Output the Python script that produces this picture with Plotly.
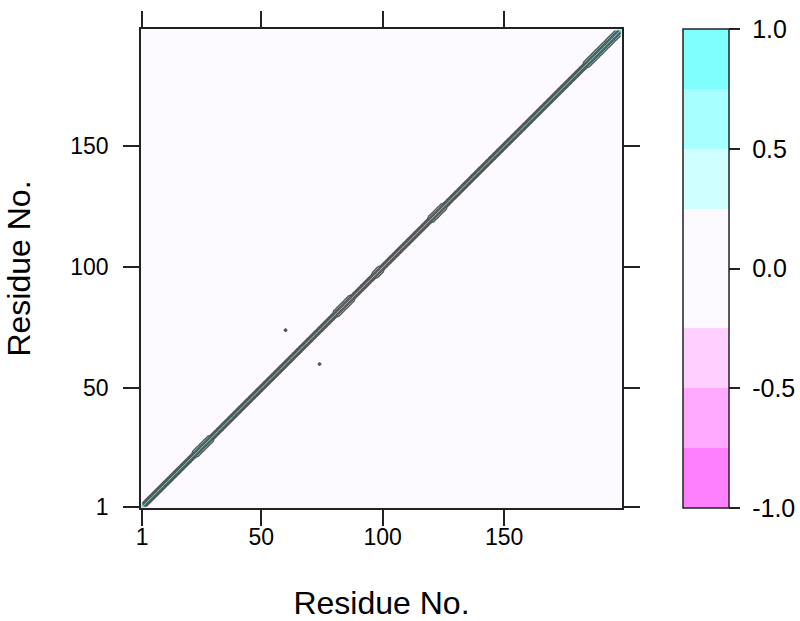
import numpy as np
import plotly.graph_objects as go

# Residue-residue cross-correlation map (DCCM style)
n_res = 198
residues = list(range(1, n_res + 1))

# Coupling of sequence neighbours (i, i+1) along the whole chain
neighbour_value = 0.55

# Stretches where next-nearest neighbours (i, i+2) are also coupled
band_start = [22, 80, 96, 119, 183]
band_end = [30, 88, 100, 126, 198]
band_value = [0.3, 0.3, 0.3, 0.3, 0.3]

# Isolated off-diagonal correlated pairs
pair_i = [60]
pair_j = [74]
pair_value = [0.6]

# Colour levels and tick labels for the colour key
level_breaks = [-1.0, -0.75, -0.5, -0.25, 0.25, 0.5, 0.75, 1.0]
level_colors = ["#FF80FF", "#FFA8FF", "#FFD0FF", "#FDFAFF", "#D0FFFF", "#A8FFFF", "#80FFFF"]
key_ticks = [-1.0, -0.5, 0.0, 0.5, 1.0]
key_labels = ["-1.0", "-0.5", "0.0", "0.5", "1.0"]
axis_ticks = [1, 50, 100, 150]

# Build the symmetric correlation matrix
cij = np.zeros((n_res, n_res))
np.fill_diagonal(cij, 1.0)
for k in range(1, n_res):
    cij[k - 1, k] = cij[k, k - 1] = neighbour_value
for s, e, v in zip(band_start, band_end, band_value):
    for k in range(s, e - 1):
        cij[k - 1, k + 1] = cij[k + 1, k - 1] = v
for i, j, v in zip(pair_i, pair_j, pair_value):
    cij[i - 1, j - 1] = cij[j - 1, i - 1] = v

# Stepped colour scale over [-1, 1]
colorscale = []
for k, col in enumerate(level_colors):
    lo = (level_breaks[k] + 1) / 2
    hi = (level_breaks[k + 1] + 1) / 2
    colorscale.append([lo, col])
    colorscale.append([hi, col])

font_family = "Liberation Sans, Arial, sans-serif"

fig = go.Figure()
fig.add_trace(go.Heatmap(
    x=residues, y=residues, z=cij,
    zmin=-1, zmax=1, colorscale=colorscale,
    hoverinfo="skip",
    colorbar=dict(
        x=(683 - 141) / 481, xanchor="left", xpad=0,
        y=0.5, yanchor="middle", ypad=0,
        thickness=46, thicknessmode="pixels",
        len=479, lenmode="pixels",
        outlinecolor="#222222", outlinewidth=1.5,
        tickvals=key_ticks, ticktext=["\u00a0" + t for t in key_labels],
        ticks="outside", ticklen=11, tickcolor="#222222", tickwidth=1.5,
        tickfont=dict(family=font_family, size=25, color="black"),
    ),
))
fig.add_trace(go.Contour(
    x=residues, y=residues, z=cij,
    contours=dict(coloring="none", start=0.25, end=0.75, size=0.25),
    line=dict(color="#555555", width=1.4, smoothing=0),
    showscale=False, hoverinfo="skip",
))

axis_style = dict(
    range=[0.5, n_res + 0.5],
    tickvals=axis_ticks,
    ticktext=[str(t) for t in axis_ticks],
    ticks="outside", ticklen=16, tickwidth=1.5, tickcolor="#222222",
    showline=True, linecolor="#222222", linewidth=1.5, mirror="ticks",
    showgrid=False, zeroline=False, automargin=False,
    tickfont=dict(family=font_family, size=23, color="black"),
)

fig.update_layout(
    width=800, height=621,
    margin=dict(l=141, r=178, t=29, b=113, autoexpand=False),
    paper_bgcolor="white", plot_bgcolor="white",
    showlegend=False,
    xaxis=dict(axis_style, ticklabelstandoff=-8,
               title=dict(text="Residue No.", standoff=42,
                          font=dict(family=font_family, size=32, color="black"))),
    yaxis=dict(axis_style, ticklabelstandoff=10,
               title=dict(text="Residue No.", standoff=30,
                          font=dict(family=font_family, size=32, color="black"))),
)

fig.write_html("out.html")
